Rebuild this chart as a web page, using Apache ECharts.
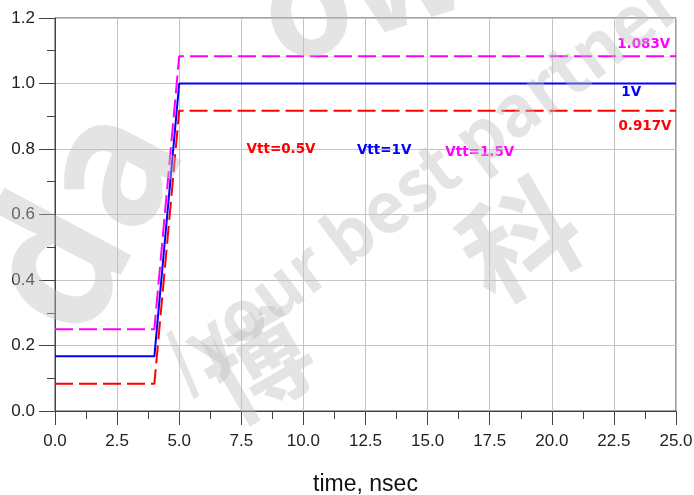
<!DOCTYPE html>
<html>
<head>
<meta charset="utf-8">
<script src="https://cdn.jsdelivr.net/npm/echarts@6/dist/echarts.min.js"></script>
<style>
  html, body { margin: 0; padding: 0; background: #fff; }
  #chart { width: 694px; height: 495px; }
</style>
</head>
<body>
<div id="chart"></div>
<script>
// Time points of the step response (nsec)
const timeNs = [0, 4, 5, 25];
// Voltage of each termination case at those time points
const vtt05 = [0.083, 0.083, 0.917, 0.917];
const vtt10 = [0.167, 0.167, 1.0, 1.0];
const vtt15 = [0.25, 0.25, 1.083, 1.083];
const seriesNames = ['Vtt=0.5V', 'Vtt=1V', 'Vtt=1.5V'];
const seriesColors = ['#ff0000', '#0000ff', '#ff00ff'];
// Where the case names and final-level labels sit (data coordinates)
const namePos = [[9.1, 0.800], [13.25, 0.794], [17.1, 0.790]];
const levelPos = [[23.75, 0.870], [23.2, 0.971], [23.7, 1.118]];
const xTicks = { min: 0, max: 25, step: 2.5 };
const yTicks = { min: 0, max: 1.2, step: 0.2 };

const allValues = [vtt05, vtt10, vtt15];

function fmtVolt(v) {
  return String(parseFloat(v.toFixed(3))) + 'V';
}

const labelFont = {
  fontFamily: 'DejaVu Sans',
  fontWeight: 'bold',
  fontSize: 13.5
};

const series = allValues.map((vals, i) => {
  const finalV = vals[vals.length - 1];
  return {
    name: seriesNames[i],
    type: 'line',
    data: timeNs.map((t, k) => [t, vals[k]]),
    symbol: 'none',
    silent: true,
    z: i === 1 ? 4 : 3,
    lineStyle: {
      color: seriesColors[i],
      width: 2,
      type: i === 1 ? 'solid' : [18, 6]
    },
    markPoint: {
      symbol: 'circle',
      symbolSize: 0,
      silent: true,
      label: Object.assign({
        show: true,
        position: 'inside',
        color: seriesColors[i]
      }, labelFont),
      data: [
        { coord: namePos[i], label: { formatter: seriesNames[i] } },
        { coord: levelPos[i], label: { formatter: fmtVolt(finalV) } }
      ]
    }
  };
});

// faint background watermark
const wmColor = 'rgba(190,190,190,0.42)';
const watermark = [
  { text: 'da', x: 75, y: 215, rot: 62, size: 180 },
  { text: 'owei', x: 420, y: -35, rot: 18, size: 140 },
  { text: '/your best partner', x: 420, y: 180, rot: 37, size: 70 },
  { text: '博', x: 258, y: 365, rot: 30, size: 105 },
  { text: '科', x: 520, y: 240, rot: 30, size: 115 }
].map(w => ({
  type: 'text',
  x: w.x,
  y: w.y,
  rotation: w.rot * Math.PI / 180,
  silent: true,
  z: 100,
  style: {
    text: w.text,
    fill: wmColor,
    font: 'bold ' + w.size + 'px "Noto Sans CJK SC", "DejaVu Sans"',
    align: 'center',
    verticalAlign: 'middle'
  }
}));

const chart = echarts.init(document.getElementById('chart'), null, { renderer: 'canvas' });
chart.setOption({
  animation: false,
  backgroundColor: '#ffffff',
  grid: {
    left: 55, right: 18, top: 18, bottom: 84,
    outerBoundsMode: 'none',
    containLabel: false,
    show: true,
    borderColor: '#444',
    borderWidth: 1,
    backgroundColor: 'transparent'
  },
  xAxis: {
    type: 'value',
    min: xTicks.min,
    max: xTicks.max,
    interval: xTicks.step,
    name: 'time, nsec',
    nameLocation: 'middle',
    nameGap: 62,
    nameTextStyle: { fontFamily: 'Liberation Sans', fontSize: 23, color: '#111' },
    axisLine: { lineStyle: { color: '#444', width: 1 } },
    axisTick: { show: true, inside: false, length: 14, lineStyle: { color: '#444' } },
    minorTick: { show: true, splitNumber: 2, length: 8, lineStyle: { color: '#444' } },
    axisLabel: {
      margin: 22,
      fontFamily: 'Liberation Sans',
      fontSize: 17,
      color: '#222',
      formatter: v => v.toFixed(1)
    },
    splitLine: { show: true, lineStyle: { color: '#c4c4c4', width: 1 } }
  },
  yAxis: {
    type: 'value',
    min: yTicks.min,
    max: yTicks.max,
    interval: yTicks.step,
    axisLine: { show: true, lineStyle: { color: '#444', width: 1 } },
    axisTick: { show: true, inside: false, length: 16, lineStyle: { color: '#444' } },
    minorTick: { show: true, splitNumber: 2, length: 8, lineStyle: { color: '#444' } },
    axisLabel: {
      margin: 20,
      fontFamily: 'Liberation Sans',
      fontSize: 17,
      color: '#222',
      formatter: v => v.toFixed(1)
    },
    splitLine: { show: true, lineStyle: { color: '#c4c4c4', width: 1 } }
  },
  graphic: watermark,
  series: series
});
</script>
</body>
</html>
